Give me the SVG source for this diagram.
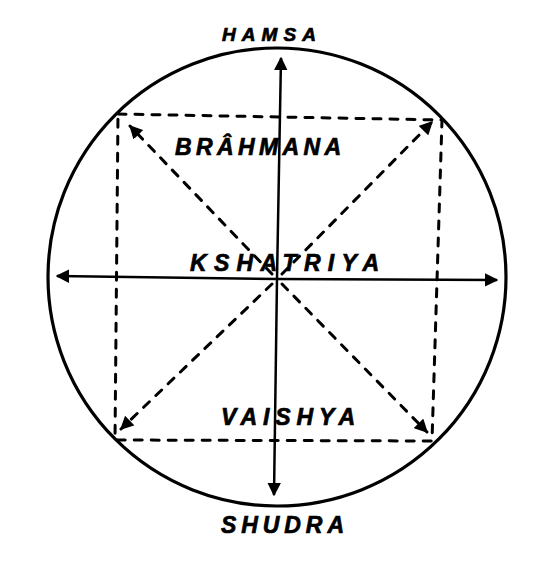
<svg xmlns="http://www.w3.org/2000/svg" width="556" height="565" viewBox="0 0 556 565">
<style>
.lbl{font-family:"Liberation Sans",Arial,sans-serif;font-weight:bold;font-style:italic;fill:#000;stroke:#000;stroke-width:0.7}
.solid{stroke:#000;stroke-width:2.5;fill:none}
.dash{stroke:#000;stroke-width:3;fill:none;stroke-dasharray:8 9;stroke-linecap:round}
</style>
<defs>
<marker id="ah" viewBox="0 0 10 10" refX="9" refY="5" markerWidth="5.5" markerHeight="5.5" orient="auto" markerUnits="strokeWidth">
<path d="M0,0 L10,5 L0,10 z" fill="#000"/>
</marker>
<marker id="ahd" viewBox="0 0 10 10" refX="9" refY="5" markerWidth="4.5" markerHeight="4.5" orient="auto" markerUnits="strokeWidth">
<path d="M0,0 L10,5 L0,10 z" fill="#000"/>
</marker>
</defs>
<rect width="556" height="565" fill="#fff"/>
<g id="circle">
<circle cx="277" cy="277" r="229" fill="none" stroke="#000" stroke-width="3.2"/>
</g>
<g id="connectors">
<line class="solid" x1="277" y1="279" x2="281" y2="58" marker-end="url(#ah)"/>
<line class="solid" x1="277" y1="279" x2="274" y2="495" marker-end="url(#ah)"/>
<line class="solid" x1="277" y1="279" x2="57" y2="276" marker-end="url(#ah)"/>
<line class="solid" x1="277" y1="279" x2="497" y2="280" marker-end="url(#ah)"/>
<polyline class="dash" points="118,114 442,120 432,441 115,440 118,114"/>
<line class="dash" x1="272" y1="274" x2="130" y2="126" marker-end="url(#ahd)"/>
<line class="dash" x1="282" y1="274" x2="432" y2="122" marker-end="url(#ahd)"/>
<line class="dash" x1="272" y1="284" x2="121" y2="429" marker-end="url(#ahd)"/>
<line class="dash" x1="282" y1="284" x2="427" y2="432" marker-end="url(#ahd)"/>
</g>
<g id="hamsa"><text class="lbl" x="222" y="41" font-size="19" textLength="94" lengthAdjust="spacing">HAMSA</text></g>
<g id="brahmana"><text class="lbl" x="175" y="155" font-size="23" textLength="166" lengthAdjust="spacing">BRÂHMANA</text></g>
<g id="kshatriya"><text class="lbl" x="190" y="271" font-size="23" textLength="189" lengthAdjust="spacing">KSHATRIYA</text></g>
<g id="vaishya"><text class="lbl" x="221" y="425" font-size="23" textLength="134" lengthAdjust="spacing">VAISHYA</text></g>
<g id="shudra"><text class="lbl" x="221" y="533" font-size="23" textLength="123" lengthAdjust="spacing">SHUDRA</text></g>
</svg>
